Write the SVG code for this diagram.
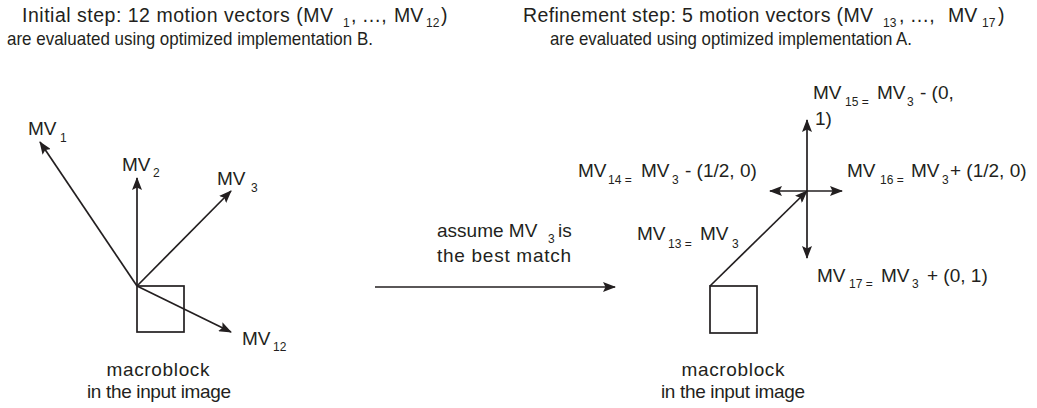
<svg xmlns="http://www.w3.org/2000/svg" width="1037" height="408" viewBox="0 0 1037 408">
  <style>
    text { font-family: "Liberation Sans", Arial, sans-serif; font-size: 19px; fill: #231f20; }
    .head1 { font-size: 19.5px; }
    .head2 { font-size: 18.5px; }
    .lbl { font-size: 19px; }
    .sub { font-size: 12px; }
    .c { text-anchor: middle; }
    .vec { stroke: #231f20; stroke-width: 1.7; fill: none; marker-end: url(#head); }
    .dbl { marker-start: url(#head); }
    .block { fill: none; stroke: #231f20; stroke-width: 1.7; }
  </style>
  <defs>
    <marker id="head" viewBox="0 0 13 10" refX="12" refY="5" markerWidth="13" markerHeight="10" markerUnits="userSpaceOnUse" orient="auto-start-reverse">
      <path d="M0,0 L13,5 L0,10 L2.5,5 z" fill="#231f20"/>
    </marker>
  </defs>

  <rect width="1037" height="408" fill="#ffffff"/>

  <!-- captions -->
  <g id="caption-initial">
    <text class="head1" x="22" y="22" textLength="311" lengthAdjust="spacing">Initial step: 12 motion vectors (MV</text>
    <text class="sub" x="343" y="27">1</text>
    <text class="head1" x="351" y="22">, …,</text>
    <text class="head1" x="394" y="22">MV</text>
    <text class="sub" x="426" y="27">12</text>
    <text class="head1" x="441" y="22">)</text>
    <text class="head2" x="7" y="45" textLength="366" lengthAdjust="spacingAndGlyphs">are evaluated using optimized implementation B.</text>
  </g>
  <g id="caption-refinement">
    <text class="head1" x="523" y="22" textLength="350" lengthAdjust="spacing">Refinement step: 5 motion vectors (MV</text>
    <text class="sub" x="883" y="27">13</text>
    <text class="head1" x="899" y="22">, …,</text>
    <text class="head1" x="948" y="22">MV</text>
    <text class="sub" x="982" y="27">17</text>
    <text class="head1" x="998" y="22">)</text>
    <text class="head2" x="550" y="45" textLength="362" lengthAdjust="spacingAndGlyphs">are evaluated using optimized implementation A.</text>
  </g>

  <!-- initial search: macroblock with candidate vectors -->
  <g id="block-initial">
    <rect class="block" x="137" y="286" width="47" height="46"/>
    <text class="lbl c" x="158" y="376" textLength="103" lengthAdjust="spacing">macroblock</text>
    <text class="lbl c" x="159" y="398" textLength="144" lengthAdjust="spacing">in the input image</text>
  </g>
  <g id="label-mv1">
    <text class="lbl" x="28" y="135">MV</text><text class="sub" x="60" y="142">1</text>
  </g>
  <g id="label-mv2">
    <text class="lbl" x="122" y="171">MV</text><text class="sub" x="153" y="177">2</text>
  </g>
  <g id="label-mv3">
    <text class="lbl" x="217" y="185">MV</text><text class="sub" x="251" y="192">3</text>
  </g>
  <g id="label-mv12">
    <text class="lbl" x="242" y="345">MV</text><text class="sub" x="273" y="351">12</text>
  </g>

  <!-- transition between steps -->
  <g id="label-assume">
    <text class="lbl" x="437" y="237">assume MV</text>
    <text class="sub" x="548" y="243">3</text>
    <text class="lbl" x="558" y="237">is</text>
    <text class="lbl" x="437" y="262" textLength="134" lengthAdjust="spacing">the best match</text>
  </g>

  <!-- refinement search -->
  <g id="block-refine">
    <rect class="block" x="710" y="286" width="47" height="47"/>
    <text class="lbl c" x="733" y="376" textLength="103" lengthAdjust="spacing">macroblock</text>
    <text class="lbl c" x="733" y="398" textLength="144" lengthAdjust="spacing">in the input image</text>
  </g>
  <g id="label-mv13">
    <text class="lbl" x="637" y="240">MV</text><text class="sub" x="668" y="248">13 =</text>
    <text class="lbl" x="700" y="240">MV</text><text class="sub" x="732" y="248">3</text>
  </g>
  <g id="label-mv14">
    <text class="lbl" x="578" y="177">MV</text><text class="sub" x="608" y="184">14 =</text>
    <text class="lbl" x="641" y="177">MV</text><text class="sub" x="672" y="184">3</text>
    <text class="lbl" x="685" y="177">- (1/2, 0)</text>
  </g>
  <g id="label-mv15">
    <text class="lbl" x="813" y="99">MV</text><text class="sub" x="845" y="106">15 =</text>
    <text class="lbl" x="877" y="99">MV</text><text class="sub" x="907" y="106">3</text>
    <text class="lbl" x="920" y="99">- (0,</text>
    <text class="lbl" x="815" y="125">1)</text>
  </g>
  <g id="label-mv16">
    <text class="lbl" x="847" y="177">MV</text><text class="sub" x="880" y="184">16 =</text>
    <text class="lbl" x="911" y="177">MV</text><text class="sub" x="942" y="184">3</text>
    <text class="lbl" x="950" y="177">+ (1/2, 0)</text>
  </g>
  <g id="label-mv17">
    <text class="lbl" x="817" y="282">MV</text><text class="sub" x="849" y="288">17 =</text>
    <text class="lbl" x="881" y="282">MV</text><text class="sub" x="912" y="288">3</text>
    <text class="lbl" x="927" y="282">+ (0, 1)</text>
  </g>

  <!-- vectors and arrows -->
  <g id="connectors">
    <line class="vec" x1="137" y1="286" x2="40" y2="142"/>
    <line class="vec" x1="137" y1="286" x2="137" y2="178"/>
    <line class="vec" x1="137" y1="286" x2="231" y2="191"/>
    <line class="vec" x1="137" y1="286" x2="231" y2="332"/>
    <line class="vec" x1="375" y1="287" x2="615" y2="287"/>
    <line class="vec" x1="710" y1="286" x2="807" y2="191"/>
    <line class="vec dbl" x1="807" y1="258" x2="807" y2="120"/>
    <line class="vec dbl" x1="770" y1="191" x2="842" y2="191"/>
  </g>
</svg>
